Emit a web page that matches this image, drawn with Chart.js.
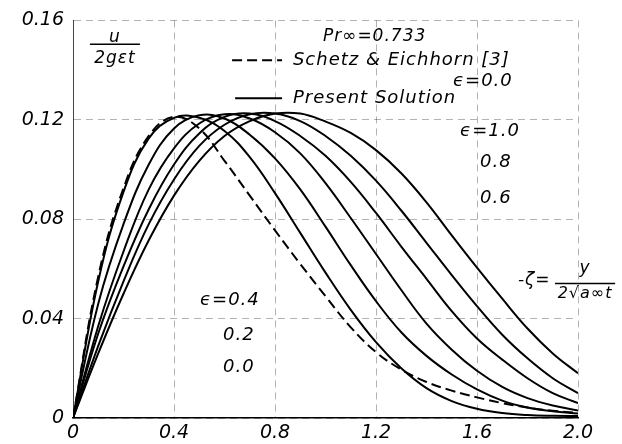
<!DOCTYPE html>
<html>
<head>
<meta charset="utf-8">
<script src="https://cdn.jsdelivr.net/npm/chart.js@4.4.0/dist/chart.umd.min.js"></script>
<style>
  html, body { margin: 0; padding: 0; background: #fff; }
  #wrap { width: 622px; height: 444px; }
</style>
</head>
<body>
<div id="wrap"><canvas id="chart" width="622" height="444"></canvas></div>
<script>
// -zeta = y / 2sqrt(a t)
const zeta = [0, 0.1, 0.2, 0.3, 0.4, 0.5, 0.6, 0.7, 0.8, 0.9, 1.0,
  1.1, 1.2, 1.3, 1.4, 1.5, 1.6, 1.7, 1.8, 1.9, 2.0];

const xTicks = [0, 0.4, 0.8, 1.2, 1.6, 2.0];
const yTicks = [0, 0.04, 0.08, 0.12, 0.16];

// u / 2g eps t, present solution
const eps00 = [0, 0.055, 0.091, 0.1125, 0.1208, 0.1208, 0.1155, 0.105, 0.0905, 0.0745, 0.0585,
  0.0435, 0.0305, 0.020, 0.012, 0.0068, 0.0037, 0.002, 0.0012, 0.0009, 0.0008];
const eps02 = [0, 0.046, 0.078, 0.102, 0.1165, 0.1218, 0.1205, 0.114, 0.1045, 0.092, 0.077,
  0.0615, 0.047, 0.0345, 0.025, 0.0175, 0.0115, 0.007, 0.0042, 0.0027, 0.0018];
const eps04 = [0, 0.037, 0.067, 0.092, 0.1085, 0.1185, 0.1222, 0.1205, 0.115, 0.1065, 0.0945,
  0.0805, 0.066, 0.0515, 0.038, 0.0275, 0.019, 0.0125, 0.008, 0.005, 0.003];
const eps06 = [0, 0.034, 0.061, 0.084, 0.102, 0.1145, 0.1212, 0.1225, 0.1195, 0.1135, 0.1055,
  0.095, 0.0825, 0.069, 0.056, 0.043, 0.032, 0.0235, 0.016, 0.010, 0.006];
const eps08 = [0, 0.029, 0.055, 0.078, 0.096, 0.1095, 0.118, 0.1222, 0.1225, 0.1195, 0.1135,
  0.1055, 0.0955, 0.0835, 0.0705, 0.0575, 0.045, 0.0335, 0.024, 0.016, 0.010];
const eps10 = [0, 0.026, 0.050, 0.0715, 0.0895, 0.1035, 0.1135, 0.1195, 0.1225, 0.1225, 0.1193,
  0.1147, 0.1078, 0.0985, 0.0868, 0.0735, 0.0605, 0.048, 0.036, 0.026, 0.018];

// Schetz & Eichhorn [3], eps = 0.0
const schetz = [0, 0.057, 0.0925, 0.1135, 0.1212, 0.1165, 0.1035, 0.0895, 0.0755, 0.062, 0.049,
  0.0365, 0.0265, 0.0195, 0.0145, 0.011, 0.0083, 0.006, 0.0042, 0.0029, 0.002];

const FONT = '"DejaVu Sans", sans-serif';

const toPoints = (ys) => ys.map((v, i) => ({ x: zeta[i], y: v }));

const curve = (label, ys, dashed) => ({
  label,
  data: toPoints(ys),
  borderColor: '#000',
  borderWidth: 2,
  borderDash: dashed ? [10, 5] : [],
  pointRadius: 0,
  fill: false,
  tension: 0.4,
});

// labels and the little legend, placed in data units
const notes = {
  id: 'notes',
  afterDraw(chart) {
    const { ctx } = chart;
    const sx = chart.scales.x;
    const sy = chart.scales.y;
    const px = (v) => sx.getPixelForValue(v);
    const py = (v) => sy.getPixelForValue(v);

    ctx.save();
    ctx.fillStyle = '#000';
    ctx.strokeStyle = '#000';
    ctx.textBaseline = 'middle';

    const text = (s, xv, yv, size, align) => {
      ctx.font = 'italic ' + size + 'px ' + FONT;
      ctx.textAlign = align || 'left';
      ctx.fillText(s, px(xv), py(yv));
    };
    const rule = (x0, x1, yv, w, dash) => {
      ctx.lineWidth = w;
      ctx.setLineDash(dash || []);
      ctx.beginPath();
      ctx.moveTo(px(x0), py(yv));
      ctx.lineTo(px(x1), py(yv));
      ctx.stroke();
      ctx.setLineDash([]);
    };

    try { ctx.letterSpacing = '1px'; } catch (e) {}

    // y axis title
    text('u', 0.166, 0.1532, 17, 'center');
    rule(0.067, 0.265, 0.1504, 1.5);
    text('2gεt', 0.166, 0.1448, 17, 'center');

    text('Pr∞=0.733', 0.99, 0.1536, 17);

    rule(0.63, 0.828, 0.144, 2, [10, 5]);
    text('Schetz & Eichhorn [3]', 0.871, 0.144, 18);
    text('ϵ=0.0', 1.505, 0.1355, 18);
    rule(0.642, 0.828, 0.1287, 2);
    text('Present Solution', 0.871, 0.1287, 18);

    text('ϵ=1.0', 1.533, 0.1155, 18);
    text('0.8', 1.612, 0.1027, 18);
    text('0.6', 1.612, 0.0882, 18);

    text('ϵ=0.4', 0.503, 0.0473, 18);
    text('0.2', 0.594, 0.0333, 18);
    text('0.0', 0.594, 0.0205, 18);

    // x axis title
    text('-ζ=', 1.762, 0.0553, 17);
    text('y', 2.028, 0.0602, 17, 'center');
    rule(1.909, 2.147, 0.0541, 1.5);
    text('2√a∞t', 2.028, 0.0498, 16, 'center');

    ctx.restore();
  },
};

new Chart(document.getElementById('chart'), {
  type: 'line',
  data: {
    datasets: [
      curve('Schetz & Eichhorn [3]', schetz, true),
      curve('ε=0.0', eps00),
      curve('ε=0.2', eps02),
      curve('ε=0.4', eps04),
      curve('ε=0.6', eps06),
      curve('ε=0.8', eps08),
      curve('ε=1.0', eps10),
    ],
  },
  options: {
    responsive: false,
    animation: false,
    devicePixelRatio: 1,
    layout: { padding: { left: 0, right: 44, top: 19, bottom: 0 } },
    plugins: {
      legend: { display: false },
      tooltip: { enabled: false },
    },
    scales: {
      x: {
        type: 'linear',
        min: 0,
        max: 2.0,
        afterBuildTicks: (scale) => { scale.ticks = xTicks.map((v) => ({ value: v })); },
        afterFit: (scale) => { scale.height = 26; },
        ticks: {
          color: '#000',
          padding: 4,
          maxRotation: 0,
          font: { family: FONT, size: 19, style: 'italic' },
          callback: (v) => (v === 0 ? '0' : v.toFixed(1)),
        },
        grid: { color: 'rgba(0,0,0,0.3)', lineWidth: 1, drawTicks: false },
        border: { color: '#000', width: 1.5, dash: [7, 5] },
      },
      y: {
        min: 0,
        max: 0.16,
        afterBuildTicks: (scale) => { scale.ticks = yTicks.map((v) => ({ value: v })); },
        afterFit: (scale) => { scale.width = 73; },
        ticks: {
          color: '#000',
          padding: 9,
          font: { family: FONT, size: 19, style: 'italic' },
          callback: (v) => (v === 0 ? '0' : v.toFixed(2)),
        },
        grid: { color: 'rgba(0,0,0,0.3)', lineWidth: 1, drawTicks: false },
        border: { color: '#444', width: 1, dash: [7, 5] },
      },
    },
  },
  plugins: [notes],
});
</script>
</body>
</html>
